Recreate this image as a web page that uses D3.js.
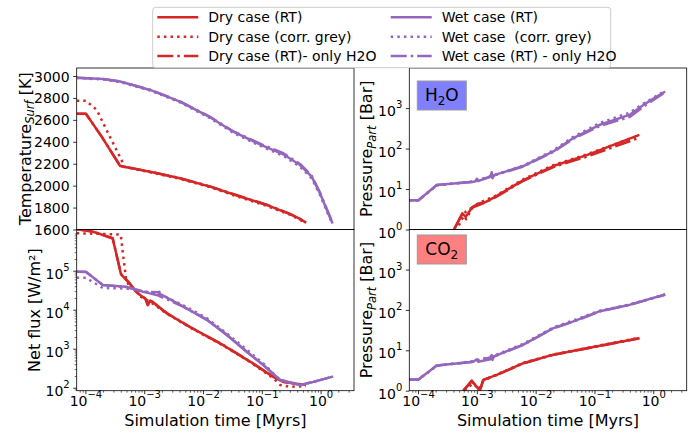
<!DOCTYPE html>
<html><head><meta charset="utf-8">
<script src="https://cdn.jsdelivr.net/npm/d3@7"></script>
<style>body{margin:0;background:#fff} text{font-family:"DejaVu Sans",sans-serif;fill:#000}</style>
</head><body><svg id="c" width="697" height="432" xmlns="http://www.w3.org/2000/svg"></svg>
<script>
// ---------------- DATA (time in Myrs) ----------------
const xTickExps = [-4, -3, -2, -1, 0];
const tempTicks = [1600, 1800, 2000, 2200, 2400, 2600, 2800, 3000];
const fluxTickExps = [2, 3, 4, 5];
const presTickExps = [0, 1, 2, 3];

// Surface temperature [K]
const tempDryRT   = [[7.1e-5,2655],[1.02e-4,2655],[1.89e-4,2447],[3.9e-4,2179],[1.26e-3,2127],[4.07e-3,2067],[0.0132,1991],[0.0426,1901],[0.121,1824],[0.302,1741],[0.45,1697],[0.566,1662]];
const tempDryGrey = [[7.1e-5,2775],[1.02e-4,2775],[1.56e-4,2690],[2.6e-4,2447],[4.7e-4,2170],[1.26e-3,2122],[4.07e-3,2062],[0.0132,1986],[0.0426,1893],[0.121,1815],[0.302,1735],[0.566,1660]];
const tempDryH2O  = [[7.1e-5,2655],[1.02e-4,2655],[1.89e-4,2447],[3.9e-4,2180],[1.26e-3,2128],[4.07e-3,2068],[0.0132,1993],[0.0426,1903],[0.121,1826],[0.302,1743],[0.566,1664]];
const tempWetRT   = [[7.1e-5,2985],[2e-4,2972],[3.9e-4,2950],[1.26e-3,2873],[4.07e-3,2766],[0.0132,2624],[0.0327,2492],[0.106,2362],[0.232,2286],[0.447,2188],[0.706,2082],[0.977,1930],[1.35,1748],[1.6,1655]];
const tempWetGrey = [[7.1e-5,2982],[2e-4,2968],[3.9e-4,2945],[1.26e-3,2868],[4.07e-3,2760],[0.0132,2615],[0.0327,2482],[0.106,2350],[0.232,2272],[0.447,2172],[0.706,2065],[0.977,1915],[1.35,1735],[1.6,1650]];
const tempWetH2O  = [[7.1e-5,2985],[2e-4,2972],[3.9e-4,2951],[1.26e-3,2875],[4.07e-3,2768],[0.0132,2627],[0.0327,2496],[0.106,2370],[0.232,2296],[0.447,2198],[0.706,2090],[0.977,1938],[1.35,1755],[1.6,1660]];

// Net flux [W/m2]
const fluxDryRT   = [[7.1e-5,1.17e6],[1.36e-4,1.0e6],[2.91e-4,6.8e5],[4.03e-4,8.1e4],[5.58e-4,4.8e4],[7.24e-4,2.9e4],[8.49e-4,2.4e4],[1.05e-3,1.9e4],[1.15e-3,1.3e4],[1.26e-3,1.7e4],[1.39e-3,1.6e4],[2.42e-3,8.1e3],[6.01e-3,3.6e3],[0.0221,1.23e3],[0.0631,468],[0.157,190],[0.232,141],[0.447,123],[0.566,120]];
const fluxDryGrey = [[7.1e-5,9.1e5],[2e-4,8.8e5],[3.63e-4,8.5e5],[4.0e-4,8.3e5],[4.3e-4,3.1e5],[4.6e-4,1.4e5],[4.9e-4,6.3e4],[5.58e-4,3.9e4],[7.24e-4,3.2e4],[8.49e-4,2.2e4],[1.26e-3,1.6e4],[2.42e-3,7.9e3],[6.01e-3,3.5e3],[0.0221,1.2e3],[0.0631,455],[0.157,175],[0.204,118],[0.3,106],[0.447,108],[0.566,110]];
const fluxDryH2O  = [[7.1e-5,1.15e6],[1.36e-4,1.0e6],[2.91e-4,6.7e5],[4.03e-4,8.3e4],[5.58e-4,4.9e4],[7.24e-4,2.9e4],[1.05e-3,1.9e4],[1.15e-3,1.35e4],[1.26e-3,1.7e4],[2.42e-3,8.2e3],[6.01e-3,3.6e3],[0.0221,1.25e3],[0.0631,470],[0.157,192],[0.232,143],[0.447,124],[0.566,121]];
const fluxWetRT   = [[7.1e-5,9.4e4],[1.02e-4,9.4e4],[1.97e-4,4.3e4],[4.9e-4,3.9e4],[8.49e-4,3.1e4],[9.42e-4,2.9e4],[1.15e-3,2.7e4],[1.75e-3,2.3e4],[1.8e-3,2.9e4],[1.86e-3,2.2e4],[2.0e-3,2.4e4],[4.62e-3,1.2e4],[0.0116,5.5e3],[0.0253,2.24e3],[0.0553,832],[0.106,380],[0.204,158],[0.447,117],[0.752,141],[1.55,190],[1.64,195]];
const fluxWetGrey = [[7.1e-5,6.6e4],[1.02e-4,6.6e4],[1.97e-4,3.6e4],[4.9e-4,3.5e4],[9.42e-4,3.0e4],[1.86e-3,2.5e4],[4.62e-3,1.3e4],[0.0116,6.1e3],[0.0253,2.5e3],[0.0553,950],[0.106,420],[0.204,160],[0.447,116],[0.752,140],[1.55,190]];
const fluxWetH2O  = [[7.1e-5,9.4e4],[1.02e-4,9.3e4],[1.97e-4,4.3e4],[4.9e-4,3.8e4],[9.42e-4,2.9e4],[1.8e-3,2.8e4],[1.86e-3,2.2e4],[4.62e-3,1.2e4],[0.0116,5.6e3],[0.0253,2.3e3],[0.0553,850],[0.106,385],[0.204,158],[0.447,117],[0.752,141],[1.55,190]];

// H2O partial pressure [Bar]
const ph2oDryRT   = [[4.09e-4,1.0],[5.66e-4,2.5],[6.47e-4,2.05],[8.37e-4,3.6],[1.09e-3,4.4],[1.42e-3,4.8],[2.09e-3,6.5],[6.18e-3,16.6],[0.02,37],[0.074,69],[0.58,219]];
const ph2oDryGrey = [[4.4e-4,0.9],[6.0e-4,2.2],[6.6e-4,1.8],[8.37e-4,3.4],[1.09e-3,4.6],[2.09e-3,6.8],[6.18e-3,17.5],[0.02,39],[0.074,72],[0.58,212]];
const ph2oDryH2O  = [[4.09e-4,1.0],[5.66e-4,2.4],[8.37e-4,3.5],[1.42e-3,4.7],[2.09e-3,6.3],[6.18e-3,16],[0.02,35],[0.074,63],[0.58,185]];
const ph2oWetRT   = [[7.1e-5,5.3],[1.02e-4,5.3],[2.08e-4,12.6],[8.71e-4,15.1],[9.5e-4,15.5],[1.0e-3,18],[1.05e-3,15.8],[1.7e-3,20],[1.79e-3,26],[1.85e-3,18.5],[1.95e-3,22],[6.18e-3,37],[0.02,85],[0.0438,182],[0.124,389],[0.403,692],[0.679,1200],[1.59,2570]];
const ph2oWetGrey = [[7.1e-5,5.2],[1.02e-4,5.2],[2.08e-4,12.3],[8.71e-4,15.5],[1.95e-3,22],[6.18e-3,38],[0.02,90],[0.0438,195],[0.124,430],[0.403,780],[0.679,1300],[1.59,2650]];
const ph2oWetH2O  = [[7.1e-5,5.3],[1.02e-4,5.3],[2.08e-4,12.6],[8.71e-4,15],[1.95e-3,21.5],[6.18e-3,36],[0.02,83],[0.0438,175],[0.124,360],[0.403,610],[0.679,1080],[1.59,2480]];

// CO2 partial pressure [Bar]
const pco2DryRT   = [[5.89e-4,1.0],[8.18e-4,1.78],[1.13e-3,1.0],[1.29e-3,1.85],[2.18e-3,2.46],[6.18e-3,4.8],[0.02,7.8],[0.074,11.2],[0.58,20]];
const pco2DryGrey = [[6.2e-4,1.0],[8.5e-4,1.5],[1.1e-3,1.1],[1.29e-3,1.8],[2.18e-3,2.5],[6.18e-3,4.9],[0.02,7.9],[0.074,11.4],[0.58,20.5]];
const pco2DryH2O  = [[5.89e-4,1.0],[8.18e-4,1.7],[1.13e-3,1.05],[1.29e-3,1.85],[2.18e-3,2.45],[6.18e-3,4.75],[0.02,7.7],[0.074,11.1],[0.58,19.8]];
const pco2WetRT   = [[7.1e-5,1.9],[1.02e-4,1.9],[2.08e-4,4.2],[8.71e-4,5.2],[1.0e-3,6.0],[1.05e-3,5.2],[1.7e-3,6.0],[1.79e-3,7.6],[1.85e-3,5.8],[1.95e-3,7.1],[6.18e-3,13.8],[0.02,35.5],[0.0438,52],[0.124,93],[0.403,135],[1.59,240]];
const pco2WetGrey = [[7.1e-5,1.9],[1.02e-4,1.9],[2.08e-4,4.1],[8.71e-4,5.4],[1.95e-3,7.3],[6.18e-3,14.5],[0.02,37],[0.0438,55],[0.124,96],[0.403,138],[1.59,242]];
const pco2WetH2O  = [[7.1e-5,1.9],[1.02e-4,1.9],[2.08e-4,4.2],[8.71e-4,5.2],[1.95e-3,7.0],[6.18e-3,13.6],[0.02,35],[0.0438,51],[0.124,92],[0.403,134],[1.59,238]];

const legendLabels = ["Dry case (RT)", "Dry case (corr. grey)", "Dry case (RT)- only H2O",
                      "Wet case (RT)", "Wet case  (corr. grey)", "Wet case (RT) - only H2O"];

// ---------------- DRAWING ----------------
const svg = d3.select("#c");
const RED = "#d62728", PURPLE = "#9467bd";
const LW = 2.5;
const LABEL_FS = 16, SUB_FS = 11.5;
const DASH = { rt: null, grey: "2.5,4.1", h2o: "16,4,2.5,4" };
const xDomain = [7.11e-5, 3.70];
const cols = { L: [76.7, 354], R: [409.3, 686.7] };
const rows = { T: [68, 229.5], B: [229.5, 390.7] };

function supText(sel, exp) {
  sel.append("tspan").text("10");
  sel.append("tspan").attr("font-size", 10).attr("dy", -8).text(exp < 0 ? "\u2212" + (-exp) : String(exp));
}

let clipId = 0;
function panel(cfg) {
  const [x0, x1] = cols[cfg.col], [y0, y1] = rows[cfg.row];
  const x = d3.scaleLog().domain(xDomain).range([x0, x1]);
  const y = cfg.log ? d3.scaleLog().domain(cfg.yDomain).range([y1, y0])
                    : d3.scaleLinear().domain(cfg.yDomain).range([y1, y0]);
  const g = svg.append("g");
  const id = "clip" + (clipId++);
  g.append("clipPath").attr("id", id).append("rect")
    .attr("x", x0).attr("y", y0).attr("width", x1 - x0).attr("height", y1 - y0);
  const lines = g.append("g").attr("clip-path", `url(#${id})`);
  const line = d3.line().x(d => x(d[0])).y(d => y(d[1]));
  cfg.series.forEach(s => {
    lines.append("path").datum(s.data).attr("d", line)
      .attr("fill", "none").attr("stroke", s.color).attr("stroke-width", LW)
      .attr("stroke-dasharray", DASH[s.style]).attr("stroke-linejoin", "round");
  });

  // y axis
  const yAxis = d3.axisLeft(y).tickSizeOuter(0).tickSize(3.5).tickPadding(3.5);
  if (cfg.log) yAxis.tickValues(cfg.yTickExps.map(e => Math.pow(10, e))).tickFormat(() => "");
  else yAxis.tickValues(cfg.yTicks).tickFormat(() => "");
  const ya = g.append("g").attr("transform", `translate(${x0},0)`).call(yAxis);
  ya.select(".domain").remove();
  ya.selectAll(".tick line").attr("stroke", "#000").attr("stroke-width", 0.8);
  ya.selectAll(".tick").each(function (d) {
    const t = d3.select(this).append("text").attr("x", -7).attr("text-anchor", "end")
      .attr("font-size", 14).attr("fill", "#000");
    if (cfg.log) { t.attr("y", 7.6); supText(t, Math.round(Math.log10(d))); }
    else { t.attr("y", 5).text(d); }
  });
  if (cfg.yMinor) {
    const mv = [];
    for (let e = -1; e <= 7; e++) for (let k = 2; k <= 9; k++) {
      const v = k * Math.pow(10, e);
      if (v > cfg.yDomain[0] && v < cfg.yDomain[1]) mv.push(v);
    }
    const ym = g.append("g").attr("transform", `translate(${x0},0)`)
      .call(d3.axisLeft(y).tickValues(mv).tickSize(2).tickFormat(() => ""));
    ym.select(".domain").remove();
    ym.selectAll(".tick line").attr("stroke", "#000").attr("stroke-width", 0.6);
  }

  // x axis (bottom panels)
  if (cfg.xAxis) {
    const xa = g.append("g").attr("transform", `translate(0,${y1})`)
      .call(d3.axisBottom(x).tickValues(xTickExps.map(e => Math.pow(10, e))).tickSize(3.5).tickFormat(() => ""));
    xa.select(".domain").remove();
    xa.selectAll(".tick line").attr("stroke", "#000").attr("stroke-width", 0.8);
    xa.selectAll(".tick").each(function (d) {
      const t = d3.select(this).append("text").attr("y", 15).attr("text-anchor", "middle")
        .attr("font-size", 14).attr("fill", "#000");
      supText(t, Math.round(Math.log10(d)));
    });
    const mv = [];
    for (let e = -5; e <= 1; e++) for (let k = 2; k <= 9; k++) {
      const v = k * Math.pow(10, e);
      if (v > xDomain[0] && v < xDomain[1]) mv.push(v);
    }
    const xm = g.append("g").attr("transform", `translate(0,${y1})`)
      .call(d3.axisBottom(x).tickValues(mv).tickSize(2).tickFormat(() => ""));
    xm.select(".domain").remove();
    xm.selectAll(".tick line").attr("stroke", "#000").attr("stroke-width", 0.6);
    g.append("text").attr("x", (x0 + x1) / 2).attr("y", 425.5).attr("text-anchor", "middle")
      .attr("font-size", LABEL_FS).text("Simulation time [Myrs]");
  }

  // frame
  g.append("rect").attr("x", x0).attr("y", y0).attr("width", x1 - x0).attr("height", y1 - y0)
    .attr("fill", "none").attr("stroke", "#000").attr("stroke-width", 0.8);

  // y label
  const lab = g.append("text").attr("text-anchor", "middle").attr("font-size", LABEL_FS)
    .attr("transform", `translate(${cfg.ylabX},${(y0 + y1) / 2}) rotate(-90)`);
  cfg.ylabel(lab);

  // species box
  if (cfg.box) {
    const bx = x0 + 8, by = y0 + cfg.box.dy;
    g.append("rect").attr("x", bx).attr("y", by).attr("width", 49).attr("height", 29)
      .attr("fill", cfg.box.fill).attr("stroke", "#999").attr("stroke-width", 1);
    const t = g.append("text").attr("x", bx + 24.5).attr("y", by + 20).attr("text-anchor", "middle").attr("font-size", 17);
    cfg.box.text(t);
  }
}

const S = (dry, wet) => [
  { data: dry[0], color: RED, style: "rt" },
  { data: dry[1], color: RED, style: "grey" },
  { data: dry[2], color: RED, style: "h2o" },
  { data: wet[0], color: PURPLE, style: "rt" },
  { data: wet[1], color: PURPLE, style: "grey" },
  { data: wet[2], color: PURPLE, style: "h2o" }
];

const subLabel = (main, sub, tail) => t => {
  t.append("tspan").text(main);
  t.append("tspan").attr("font-size", SUB_FS).attr("font-style", "italic").attr("dy", 3.5).text(sub);
  t.append("tspan").attr("dy", -3.5).text(tail);
};

panel({ col: "L", row: "T", log: false, yDomain: [1600, 3073], yTicks: tempTicks, ylabX: 30.5,
  series: S([tempDryRT, tempDryGrey, tempDryH2O], [tempWetRT, tempWetGrey, tempWetH2O]),
  ylabel: subLabel("Temperature", "Surf", " [K]") });

panel({ col: "L", row: "B", log: true, yDomain: [83.8, 1.14e6], yTickExps: fluxTickExps, yMinor: true, xAxis: true, ylabX: 39.5,
  series: S([fluxDryRT, fluxDryGrey, fluxDryH2O], [fluxWetRT, fluxWetGrey, fluxWetH2O]),
  ylabel: t => t.text("Net flux [W/m\u00b2]") });

const presLabel = subLabel("Pressure", "Part", " [Bar]");

panel({ col: "R", row: "T", log: true, yDomain: [1, 9800], yTickExps: presTickExps, ylabX: 372,
  series: S([ph2oDryRT, ph2oDryGrey, ph2oDryH2O], [ph2oWetRT, ph2oWetGrey, ph2oWetH2O]),
  ylabel: presLabel,
  box: { dy: 13, fill: "#8080ff", text: t => { t.append("tspan").text("H");
    t.append("tspan").attr("font-size", 12).attr("dy", 4).text("2");
    t.append("tspan").attr("dy", -4).text("O"); } } });

panel({ col: "R", row: "B", log: true, yDomain: [1, 9800], yTickExps: presTickExps, xAxis: true, ylabX: 372,
  series: S([pco2DryRT, pco2DryGrey, pco2DryH2O], [pco2WetRT, pco2WetGrey, pco2WetH2O]),
  ylabel: presLabel,
  box: { dy: 5.5, fill: "#ff8080", text: t => { t.append("tspan").text("CO");
    t.append("tspan").attr("font-size", 12).attr("dy", 4).text("2"); } } });

// legend
const lg = svg.append("g");
lg.append("rect").attr("x", 152.7).attr("y", 7.3).attr("width", 458).attr("height", 60.4).attr("rx", 3)
  .attr("fill", "#fff").attr("fill-opacity", 0.8).attr("stroke", "#ccc").attr("stroke-width", 1);
const legendStyles = ["rt", "grey", "h2o"];
legendLabels.forEach((lab, i) => {
  const c = Math.floor(i / 3), r = i % 3;
  const hx = c === 0 ? 157.3 : 390.7, tx = c === 0 ? 208.3 : 441.7;
  const cy = 17.3 + r * 19.35;
  lg.append("line").attr("x1", hx).attr("x2", hx + 41).attr("y1", cy).attr("y2", cy)
    .attr("stroke", c === 0 ? RED : PURPLE).attr("stroke-width", LW)
    .attr("stroke-dasharray", DASH[legendStyles[r]]);
  lg.append("text").attr("x", tx).attr("y", cy + 5).attr("font-size", 14)
    .style("white-space", "pre").text(lab);
});
</script></body></html>
